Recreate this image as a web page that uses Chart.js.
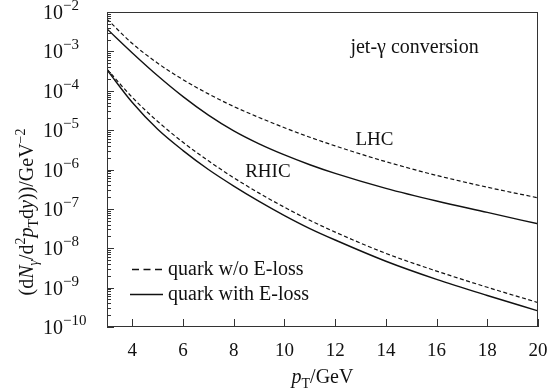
<!DOCTYPE html>
<html>
<head>
<meta charset="utf-8">
<script src="https://cdn.jsdelivr.net/npm/chart.js@4.4.1/dist/chart.umd.min.js"></script>
<style>
  html, body { margin: 0; padding: 0; background: #fff; }
  canvas { display: block; }
</style>
</head>
<body>
<canvas id="chart" width="548" height="391"></canvas>
<script>
// ── Data ─────────────────────────────────────────────────────────────────────
const pT          = [3, 4, 5, 6, 7, 8, 9, 10, 11, 12, 14, 16, 18, 20];
const lhcNoLoss   = [6.61e-3, 1.58e-3, 5.01e-4, 1.91e-4, 8.32e-5, 3.98e-5, 2.09e-5, 1.15e-5, 6.61e-6, 3.98e-6, 1.58e-6, 7.08e-7, 3.55e-7, 1.91e-7];
const lhcLoss     = [3.72e-3, 9.12e-4, 2.40e-4, 7.08e-5, 2.40e-5, 9.55e-6, 4.47e-6, 2.34e-6, 1.32e-6, 7.94e-7, 3.31e-7, 1.58e-7, 8.13e-8, 4.17e-8];
const rhicNoLoss  = [3.55e-4, 6.76e-5, 1.66e-5, 4.90e-6, 1.66e-6, 6.17e-7, 2.51e-7, 1.10e-7, 5.13e-8, 2.57e-8, 7.41e-9, 2.63e-9, 1.02e-9, 4.17e-10];
const rhicLoss    = [3.39e-4, 5.01e-5, 1.05e-5, 3.02e-6, 1.00e-6, 3.80e-7, 1.55e-7, 6.76e-8, 3.16e-8, 1.62e-8, 4.68e-9, 1.62e-9, 6.31e-10, 2.57e-10];

const xTicks      = [4, 6, 8, 10, 12, 14, 16, 18, 20];
const yTickExps   = [-2, -3, -4, -5, -6, -7, -8, -9, -10];
const legendNames = ['quark w/o E-loss', 'quark with E-loss'];

const SERIF = '"Liberation Serif", "DejaVu Serif", serif';
const INK   = '#111';

// ── Helpers ──────────────────────────────────────────────────────────────────
function pts(ys) {
    return pT.map((x, i) => ({ x, y: ys[i] }));
}

// runs: [text, {size, it, dy}]
function runsWidth(ctx, runs) {
    let w = 0;
    runs.forEach(([t, s]) => {
        ctx.font = (s.it ? 'italic ' : '') + s.size + 'px ' + SERIF;
        w += ctx.measureText(t).width;
    });
    return w;
}
function drawRuns(ctx, runs, x, y) {
    runs.forEach(([t, s]) => {
        ctx.font = (s.it ? 'italic ' : '') + s.size + 'px ' + SERIF;
        ctx.fillText(t, x, y + (s.dy || 0));
        x += ctx.measureText(t).width;
    });
}

// ── Axes, labels, legend ─────────────────────────────────────────────────────
const decorations = {
    id: 'decorations',
    afterDraw(chart) {
        const { ctx, chartArea: a, scales: { x, y } } = chart;
        ctx.save();
        ctx.fillStyle = INK;
        ctx.strokeStyle = '#333';
        ctx.lineWidth = 1;
        ctx.textBaseline = 'alphabetic';

        // frame
        ctx.strokeRect(a.left + 0.5, a.top + 0.5, a.right - a.left - 1, a.bottom - a.top - 1);

        // y ticks (left side, inward)
        ctx.beginPath();
        for (let e = -10; e <= -2; e++) {
            const py = Math.round(y.getPixelForValue(Math.pow(10, e))) + 0.5;
            ctx.moveTo(a.left, py); ctx.lineTo(a.left + 7, py);
            if (e < -2) {
                for (let m = 2; m <= 9; m++) {
                    const my = Math.round(y.getPixelForValue(m * Math.pow(10, e))) + 0.5;
                    ctx.moveTo(a.left, my); ctx.lineTo(a.left + 4, my);
                }
            }
        }
        // x ticks (bottom, inward)
        xTicks.forEach(v => {
            const px = Math.round(x.getPixelForValue(v)) + 0.5;
            ctx.moveTo(px, a.bottom); ctx.lineTo(px, a.bottom - 8);
        });
        ctx.stroke();

        // y tick labels 10^n
        ctx.textAlign = 'left';
        yTickExps.forEach(e => {
            const py = y.getPixelForValue(Math.pow(10, e));
            drawRuns(ctx, [['10', { size: 20 }], ['\u2212' + Math.abs(e), { size: 15, dy: -9 }]], 43, py + 7);
        });

        // x tick labels
        ctx.textAlign = 'center';
        ctx.font = '19px ' + SERIF;
        xTicks.forEach(v => ctx.fillText(String(v), x.getPixelForValue(v), 356));

        ctx.textAlign = 'left';
        // x title
        const xt = [['p', { size: 20, it: true }], ['T', { size: 14, dy: 5 }], ['/GeV', { size: 20 }]];
        drawRuns(ctx, xt, (a.left + a.right) / 2 - runsWidth(ctx, xt) / 2, 383);

        // y title (rotated)
        const yt = [
            ['(d', { size: 20 }], ['N', { size: 20, it: true }], ['\u03b3', { size: 14, it: true, dy: 5 }],
            ['/d', { size: 20 }], ['2', { size: 14, dy: -8 }], ['p', { size: 20, it: true }],
            ['T', { size: 14, dy: 5 }], ['d', { size: 20 }], ['y', { size: 20, it: true }],
            ['))/GeV', { size: 20 }], ['\u22122', { size: 14, dy: -8 }]
        ];
        ctx.save();
        ctx.translate(33, 212);
        ctx.rotate(-Math.PI / 2);
        drawRuns(ctx, yt, -runsWidth(ctx, yt) / 2, 0);
        ctx.restore();

        // in-plot annotations, placed in data coordinates
        ctx.font = '20px ' + SERIF;
        ctx.fillText('jet-\u03b3 conversion', x.getPixelForValue(12.6), y.getPixelForValue(Math.pow(10, -3.05)));
        ctx.font = '19px ' + SERIF;
        ctx.fillText('LHC', x.getPixelForValue(12.8), y.getPixelForValue(Math.pow(10, -5.38)));
        ctx.fillText('RHIC', x.getPixelForValue(8.45), y.getPixelForValue(Math.pow(10, -6.2)));

        // legend
        ctx.strokeStyle = INK;
        ctx.lineWidth = 1.3;
        ctx.beginPath();
        ctx.setLineDash([7, 4.5]);
        ctx.moveTo(132, 269.5); ctx.lineTo(163, 269.5);
        ctx.stroke();
        ctx.beginPath();
        ctx.setLineDash([]);
        ctx.moveTo(130, 294.5); ctx.lineTo(163, 294.5);
        ctx.stroke();
        ctx.font = '20px ' + SERIF;
        ctx.fillText(legendNames[0], 168, 275);
        ctx.fillText(legendNames[1], 168, 300);

        ctx.restore();
    }
};

// ── Chart ────────────────────────────────────────────────────────────────────
const dashed = { borderDash: [4, 2.5], borderWidth: 1.2 };
const solid  = { borderDash: [], borderWidth: 1.4 };

new Chart(document.getElementById('chart').getContext('2d'), {
    type: 'line',
    data: {
        datasets: [
            { label: 'LHC ' + legendNames[0],  data: pts(lhcNoLoss),  ...dashed },
            { label: 'LHC ' + legendNames[1],  data: pts(lhcLoss),    ...solid },
            { label: 'RHIC ' + legendNames[0], data: pts(rhicNoLoss), ...dashed },
            { label: 'RHIC ' + legendNames[1], data: pts(rhicLoss),   ...solid },
        ].map(d => ({ ...d, borderColor: INK, pointRadius: 0, fill: false, cubicInterpolationMode: 'monotone' }))
    },
    options: {
        responsive: false,
        animation: false,
        layout: { padding: { left: 107, right: 10, top: 12, bottom: 64 } },
        plugins: { legend: { display: false }, tooltip: { enabled: false } },
        scales: {
            x: { type: 'linear', min: 3, max: 20, display: false },
            y: { type: 'logarithmic', min: 1e-10, max: 1e-2, display: false },
        }
    },
    plugins: [decorations]
});
</script>
</body>
</html>
